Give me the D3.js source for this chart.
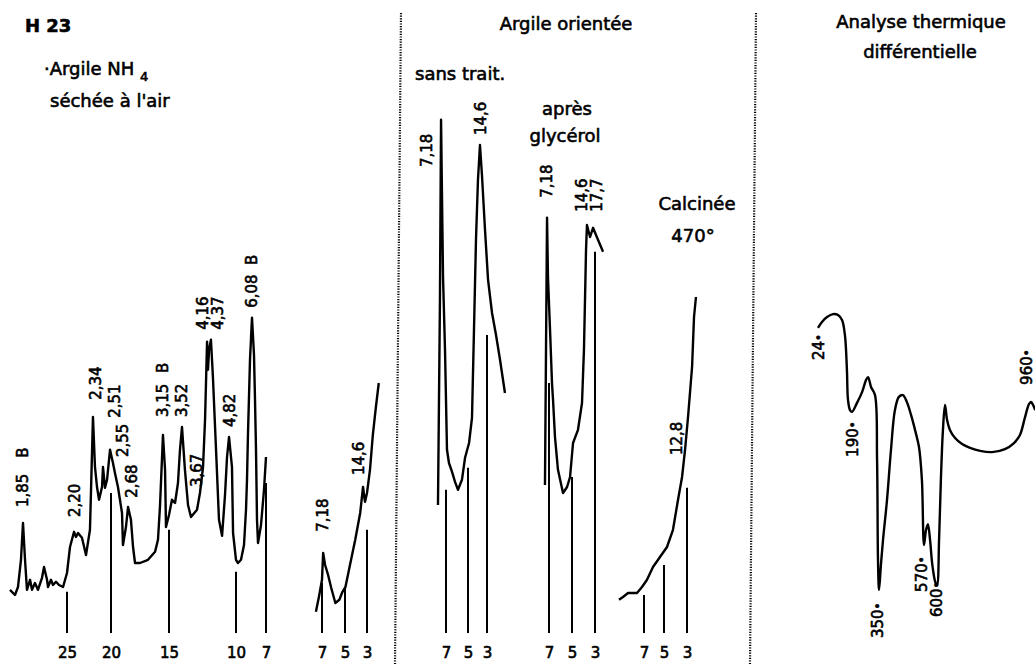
<!DOCTYPE html>
<html><head><meta charset="utf-8">
<script src="https://cdn.jsdelivr.net/npm/d3@7"></script>
<style>
body{margin:0;background:#fff}
svg{display:block}
text{font-family:"DejaVu Sans",sans-serif;fill:#000;stroke:#000;stroke-width:0.6px}
</style>
</head><body><svg id="c" width="1035" height="664"></svg>
<script>
// ---------- DATA ----------
// Panel 1 : Argile NH4 séchée à l'air (x in degrees 2θ, y in relative intensity)
const powderTicks = [25, 20, 15, 10, 7];
const powderTickTops = [10.3, 35, 25.8, 15.3, 37.5];
const powderTrace = [
  [31.48,10.8],[30.91,9.5],[30.57,11.5],[30.23,18.3],[30.0,27.5],[29.77,18.3],[29.55,10.8],
  [29.2,13.3],[28.98,10.8],[28.64,12.5],[28.3,10.8],[27.84,13.8],[27.61,16.5],[27.27,13.3],
  [27.16,11.5],[26.82,13.3],[26.59,12],[26.25,12.8],[25.91,12],[25.45,11.5],[25.0,15],
  [24.66,21.5],[24.2,25.3],[23.98,24],[23.75,25],[23.3,23.8],[22.84,19.5],[22.39,25.8],
  [22.05,54],[21.82,41.5],[21.59,36.5],[21.36,33.3],[21.02,36.5],[20.91,41.5],[20.68,36.3],
  [20.45,38.3],[20.11,45.8],[19.83,42.5],[19.66,40],[19.4,36.5],[19.05,30],[18.97,22],
  [18.71,26.5],[18.53,31.5],[18.28,28.3],[18.1,21.5],[17.93,17.5],[17.5,17.5],[16.81,18.3],
  [16.2,20.3],[15.95,23.3],[15.78,31.5],[15.52,49.5],[15.34,40.8],[15.26,26.5],[15.0,29.5],
  [14.78,33.3],[14.55,32.5],[14.33,37.5],[14.18,45.8],[14.03,51.5],[13.81,40.8],[13.58,32],
  [13.36,29],[12.91,30.8],[12.69,35],[12.46,41.5],[12.31,53.3],[12.16,72.8],[12.09,65.8],
  [12.01,70.8],[11.87,73.3],[11.79,68.3],[11.72,63.8],[11.49,45.8],[11.27,28.3],[11.04,24.3],
  [10.82,34.5],[10.67,44],[10.52,49],[10.3,41.5],[10.22,25],[10.0,18.3],[9.8,17.5],[9.5,18.3],
  [9.2,22],[9.0,30.8],[8.9,38.3],[8.8,50],[8.6,68.3],[8.4,78.8],[8.2,69.5],[8.1,58.3],
  [8.0,45.8],[7.9,28.3],[7.8,22.5],[7.5,27],[7.2,35.8],[7.0,44]
];
const powderLabels = [
  ["1,85",30.0,31.5],["B",30.0,43.8],["2,20",24.1,29],["2,34",21.8,58.3],["2,51",19.66,53.8],
  ["2,55",18.97,44],["2,68",18.19,33.8],["3,15",15.52,54],["B",15.52,65],["3,52",14.03,54],
  ["3,67",12.91,36.5],["4,16",12.46,75.8],["4,37",11.34,75.8],["4,82",10.45,51.5],
  ["6,08",8.4,81.3],["B",8.4,92]
];

// Panel 1 (low angle part)
const lowTicks = [7, 5, 3];
const lowTickTops = [12.5, 11.5, 25.8];
const lowTrace = [
  [7.53,5.3],[7.27,9],[7.0,13.3],[6.9,20],[6.73,17],[6.47,14.5],[6.2,11.3],[5.84,7.5],
  [5.49,8.3],[5.22,10.3],[4.96,11.5],[4.51,17.5],[4.07,23.3],[3.62,30],[3.36,36.5],
  [3.27,34.5],[3.18,32.8],[3.0,35],[2.73,40.8],[2.47,49.5],[2.2,56.3],[1.93,62.5]
];
const lowLabels = [["7,18",6.91,25.3],["14,6",3.8,39.5]];

// Panel 2 : Argile orientée
const orientTicks = [7, 5, 3];
const sansTraitTops = [35.8, 41.3, 74.5];
const sansTrait = [
  [7.73,32],[7.55,83.3],[7.45,128.3],[7.36,108.3],[7.27,89],[7.09,70.8],[6.91,45.8],
  [6.73,42.5],[6.45,40.3],[6.18,37.8],[5.91,35.8],[5.55,38.3],[5.27,43.8],[4.89,47.5],
  [4.58,53.8],[4.37,75.8],[4.16,98.3],[3.95,113.3],[3.74,122],[3.53,114.5],[3.21,100.8],
  [2.89,88.3],[2.47,80],[2.05,74.5],[1.63,68.3],[1.11,60]
];
const sansTraitLabels = [["7,18",8.73,116.5],["14,6",3.63,124.5]];

const glycerolTops = [62.5, 39, 95.3];
const glycerol = [
  [7.35,37],[7.26,70.8],[7.17,103.8],[7.09,89],[6.91,75.8],[6.74,62.5],[6.65,58.3],
  [6.48,49],[6.22,40.8],[5.78,35],[5.43,36.5],[5.17,39],[4.91,47.5],[4.48,50.8],
  [4.13,57.5],[3.96,70.8],[3.78,95.8],[3.7,102],[3.43,99],[3.17,101.3],[2.74,98.3],[2.3,95.3]
];
const glycerolLabels = [["7,18",7.17,108.8],["14,6",4.13,105.3],["17,7",2.83,105.3]];

const calcineTops = [9.5, 17, 36.3];
const calcine = [
  [9.5,8.3],[9.1,9],[8.6,10],[7.7,10],[7.2,11.5],[6.7,13.3],[6.1,16.5],[5.4,19],
  [4.74,21.5],[4.22,25.8],[3.78,33.3],[3.43,39],[3.17,45.8],[2.91,54],[2.56,66.5],
  [2.39,79],[2.22,84]
];
const calcineLabels = [["12,8",3.87,44.5]];

// Panel 3 : Analyse thermique différentielle (x in °C, y relative signal)
const dtaTemps = [24, 190, 350, 570, 600, 960];
const dtaTrace = [
  [24,90.7],[46,92.7],[74,94.3],[107,95.3],[135,95],[157,93.3],[173,88.3],[184,76.7],
  [190,66.7],[200.7,63.3],[211,62.7],[238,65.7],[265,69.3],[286,73.3],[297,74.3],
  [313,71],[334,68.3],[345,46.7],[350,13.3],[355,3.3],[364,11.7],[374,20],[393,33.3],
  [412,50],[431,63.3],[450,67.7],[469,68.3],[488,66],[508,61.7],[527,56.7],[546,51],
  [560,40],[570,18.3],[574.6,23.3],[579,25.3],[584,20],[589,12],[596,6],[600,5],
  [608,20],[615,40],[623,56.7],[631,65],[639,60],[650,56.7],[670,54],[697,52],[728,50.7],
  [767,49.7],[813,49.3],[863,50.3],[898,52.3],[921,55],[940,60.7],[956,65.3],[964,66],
  [972,65],[980,63.3]
];
const dtaLabels = [["24",29.5,80],["190",217,47.7],["350",350,-12.7],["570",560,2.7],["600",600,-5.7],["960",947,71.7]];

// ---------- DRAWING ----------
const svg = d3.select("#c");
const yX = d3.scaleLinear().domain([0,100]).range([633,233]);

const xPowder = d3.scaleLinear().domain(powderTicks).range([67,111,169,236,266]);
const xLow = d3.scaleLinear().domain(lowTicks).range([322,345,367]);
const xA = d3.scaleLinear().domain(orientTicks).range([446,468,487]);
const xB = d3.scaleLinear().domain(orientTicks).range([549,572,595]);
const xC = d3.scaleLinear().domain(orientTicks).range([644,664,687]);
const xD = d3.scaleLinear().domain(dtaTemps).range([818,848,878,924,937,1030]);
const yD = d3.scaleLinear().domain([0,100]).range([600,300]);

function vlabel(g, x, y, t, size) {
  g.append("text")
    .attr("transform", `translate(${x},${y}) rotate(-90)`)
    .attr("dy", "0.36em")
    .attr("font-size", size || 15)
    .text(t);
}

function xrd(xs, trace, ticks, tops, labels) {
  const g = svg.append("g");
  g.selectAll("line.tk").data(ticks).join("line")
    .attr("x1", d => xs(d)).attr("x2", d => xs(d))
    .attr("y1", yX(0)).attr("y2", (d,i) => yX(tops[i]))
    .attr("stroke", "#000").attr("stroke-width", 2);
  g.append("path").datum(trace)
    .attr("d", d3.line().x(d => xs(d[0])).y(d => yX(d[1])))
    .attr("fill", "none").attr("stroke", "#000").attr("stroke-width", 2.4)
    .attr("stroke-linejoin", "round");
  const ax = g.append("g").attr("transform", `translate(0,${yX(0)})`)
    .call(d3.axisBottom(xs).tickValues(ticks).tickSize(0).tickPadding(14).tickFormat(d => d));
  ax.select(".domain").remove();
  ax.selectAll("text").attr("font-family", "DejaVu Sans").attr("font-size", 15).attr("fill", "#000");
  labels.forEach(l => vlabel(g, xs(l[1]), yX(l[2]), l[0]));
}

xrd(xPowder, powderTrace, powderTicks, powderTickTops, powderLabels);
xrd(xLow, lowTrace, lowTicks, lowTickTops, lowLabels);
xrd(xA, sansTrait, orientTicks, sansTraitTops, sansTraitLabels);
xrd(xB, glycerol, orientTicks, glycerolTops, glycerolLabels);
xrd(xC, calcine, orientTicks, calcineTops, calcineLabels);

// DTA
const gd = svg.append("g");
gd.append("path").datum(dtaTrace)
  .attr("d", d3.line().x(d => xD(d[0])).y(d => yD(d[1])).curve(d3.curveCatmullRom.alpha(0.5)))
  .attr("fill", "none").attr("stroke", "#000").attr("stroke-width", 2.4);
dtaLabels.forEach(l => {
  const t = gd.append("text")
    .attr("transform", `translate(${xD(l[1])},${yD(l[2])}) rotate(-90)`)
    .attr("dy", "0.36em").attr("font-size", 15);
  t.append("tspan").text(l[0]);
  t.append("tspan").attr("font-size", 12).attr("dy", "-0.1em").text("•");
});

// separators (dotted)
svg.append("line").attr("x1", 401).attr("y1", 13).attr("x2", 395).attr("y2", 664)
  .attr("stroke", "#000").attr("stroke-width", 2.2).attr("stroke-dasharray", "1.2,1.4");
svg.append("line").attr("x1", 756).attr("y1", 13).attr("x2", 750).attr("y2", 664)
  .attr("stroke", "#000").attr("stroke-width", 2.2).attr("stroke-dasharray", "1.2,1.4");

// titles
function txt(x, y, t, opts) {
  opts = opts || {};
  return svg.append("text").attr("x", x).attr("y", y)
    .attr("font-size", opts.size || 18)
    .attr("font-weight", opts.weight || "normal")
    .attr("text-anchor", opts.anchor || "start")
    .text(t);
}
txt(25, 32, "H 23", {weight: "bold", size: 18});
const a = txt(44, 75, "·Argile NH ");
a.append("tspan").attr("font-size", 13).attr("dy", 6).text("4");
txt(50, 107, "séchée à l'air");
txt(566, 30, "Argile orientée", {anchor: "middle"});
txt(415, 80, "sans trait.");
txt(567, 115, "après", {anchor: "middle"});
txt(565, 142, "glycérol", {anchor: "middle"});
txt(697, 210, "Calcinée", {anchor: "middle"});
txt(693, 242, "470°", {anchor: "middle"});
txt(921, 28, "Analyse thermique", {anchor: "middle"});
txt(920, 58, "différentielle", {anchor: "middle"});
</script>
</body></html>
